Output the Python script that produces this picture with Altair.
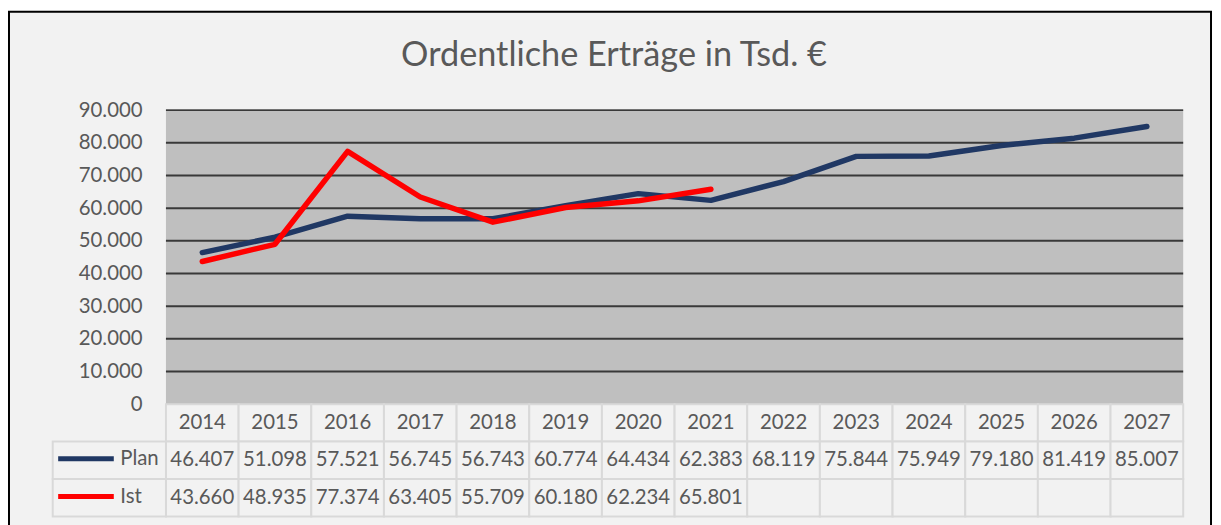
import altair as alt
import pandas as pd

# ---------------- data ----------------
years = list(range(2014, 2028))
plan = [46407, 51098, 57521, 56745, 56743, 60774, 64434, 62383,
        68119, 75844, 75949, 79180, 81419, 85007]
ist = [43660, 48935, 77374, 63405, 55709, 60180, 62234, 65801]
y_ticks = [0, 10000, 20000, 30000, 40000, 50000, 60000, 70000, 80000, 90000]
rows = ["Jahr", "Plan", "Ist"]
series = ["Plan", "Ist"]
colors = ["#203864", "#ff0000"]
title_text = "Ordentliche Erträge in Tsd. €"


def de(v):
    return f"{v:,}".replace(",", ".")


plan_df = pd.DataFrame({"year": years, "series": "Plan", "value": plan})
ist_df = pd.DataFrame({"year": years[:len(ist)], "series": "Ist", "value": ist})

tab = []
for i, yr in enumerate(years):
    tab.append({"row": "Jahr", "year": yr, "label": str(yr)})
    tab.append({"row": "Plan", "year": yr, "label": de(plan[i])})
    tab.append({"row": "Ist", "year": yr, "label": de(ist[i]) if i < len(ist) else ""})
table_df = pd.DataFrame(tab)

grid_df = pd.DataFrame({"v": y_ticks[1:]})
legend_rows_df = pd.DataFrame({"row": series})

# ---------------- layout / style ----------------
FONT = "Lato"
TXT = "#595959"
FS = 20.5
X0, X1 = 158, 1182          # plot area left/right inside the card
Y0, Y90 = 395, 99           # value 0 / 90000
ROW0, ROW1 = 395, 508       # data table rows
LEG0 = 44                   # left edge of legend column

x_band = alt.Scale(type="band", domain=years, range=[X0, X1], paddingInner=0, paddingOuter=0)
x_point = alt.Scale(type="point", domain=years, range=[X0, X1], padding=0.5)
x_plot = alt.Scale(type="band", domain=["plot"], range=[X0, X1], paddingInner=0, paddingOuter=0)
y_val = alt.Scale(domain=[0, 90000], range=[Y0, Y90], nice=False, zero=True)
y_row = alt.Scale(type="band", domain=rows, range=[ROW0, ROW1], paddingInner=0, paddingOuter=0)
col_scale = alt.Scale(domain=series, range=colors)

bg = alt.Chart(pd.DataFrame({"v": [0]})).mark_rect(color="#bfbfbf").encode(
    x=alt.X(datum="plot", type="nominal", scale=x_plot, axis=None),
    y=alt.Y(datum=0, type="quantitative", scale=y_val, axis=None),
    y2=alt.Y2(datum=90000),
)

grid = alt.Chart(grid_df).mark_tick(color="#000000", thickness=2, size=X1 - X0).encode(
    x=alt.X(datum="plot", type="nominal", scale=x_plot, axis=None),
    y=alt.Y("v:Q", scale=y_val, axis=None),
)

legend = alt.Legend(
    orient="none", legendX=47, legendY=431, direction="vertical", title=None,
    symbolType="stroke", symbolSize=3136, symbolStrokeWidth=5,
    labelFont=FONT, labelFontSize=FS, labelColor=TXT, labelOffset=4,
    clipHeight=38, rowPadding=0, padding=0, zindex=1,
)

line_plan = alt.Chart(plan_df).mark_line(strokeWidth=5.5, strokeCap="round", strokeJoin="round").encode(
    x=alt.X("year:O", scale=x_point, axis=None),
    y=alt.Y("value:Q", scale=y_val, axis=alt.Axis(
        values=y_ticks, labelExpr="replace(format(datum.value, ','), ',', '.')",
        labelFont=FONT, labelFontSize=FS, labelColor=TXT, labelPadding=24,
        domain=False, ticks=False, grid=False, offset=-X0, title=None)),
    color=alt.Color("series:N", scale=col_scale, legend=legend),
)

line_ist = alt.Chart(ist_df).mark_line(strokeWidth=5.5, strokeCap="round", strokeJoin="round").encode(
    x=alt.X("year:O", scale=x_point, axis=None),
    y=alt.Y("value:Q", scale=y_val, axis=None),
    color=alt.Color("series:N", scale=col_scale, legend=legend),
)

cells = alt.Chart(table_df).mark_rect(fill="#f2f2f2", stroke="#d9d9d9", strokeWidth=2).encode(
    x=alt.X("year:O", scale=x_band, axis=None),
    y=alt.Y("row:N", scale=y_row, axis=None),
)

cell_text = alt.Chart(table_df).mark_text(font=FONT, fontSize=FS, color=TXT, baseline="middle").encode(
    x=alt.X("year:O", scale=x_band, axis=None),
    y=alt.Y("row:N", scale=y_row, axis=None),
    text="label:N",
)

leg_cells = alt.Chart(legend_rows_df).mark_rect(fill="#f2f2f2", stroke="#d9d9d9", strokeWidth=2).encode(
    x=alt.X(datum="legend", type="nominal",
            scale=alt.Scale(type="band", domain=["legend"], range=[LEG0, X0], paddingInner=0, paddingOuter=0),
            axis=None),
    y=alt.Y("row:N", scale=y_row, axis=None),
)

chart = alt.layer(bg, grid, cells, cell_text, leg_cells, line_plan, line_ist).resolve_scale(
    x="independent", y="independent"
).properties(
    width=1210, height=540,
    autosize=alt.AutoSizeParams(type="none"),
    padding={"left": 1, "top": 2, "right": 2, "bottom": 0},
    background="white",
    title=alt.TitleParams(
        text=title_text, font=FONT, fontSize=34.5, fontWeight="normal", color=TXT,
        anchor="middle", frame="group", baseline="middle", offset=-79, dx=4,
    ),
).configure_view(fill="#f2f2f2", stroke="black", strokeWidth=2)

chart.save("out.html", embed_options={"renderer": "svg", "actions": False})
